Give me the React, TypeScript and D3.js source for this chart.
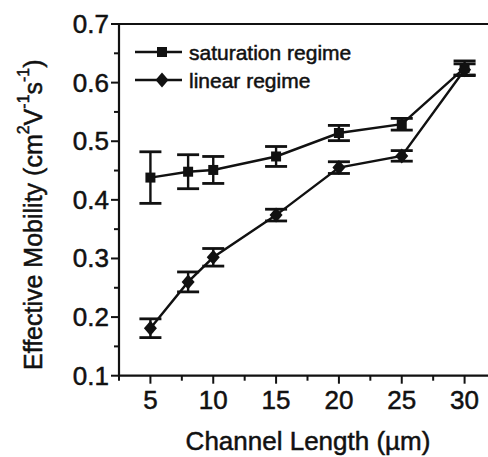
import React from 'react';
import * as d3 from 'd3';

// channel length (µm)
const channelLength = [5, 8, 10, 15, 20, 25, 30];
// effective mobility, saturation regime
const saturationMobility = [0.438, 0.448, 0.451, 0.474, 0.514, 0.529, 0.625];
const saturationError = [0.044, 0.029, 0.023, 0.017, 0.013, 0.01, 0.012];
// effective mobility, linear regime
const linearMobility = [0.181, 0.26, 0.302, 0.374, 0.455, 0.475, 0.622];
const linearError = [0.016, 0.017, 0.015, 0.01, 0.01, 0.009, 0.01];

const xTicks = [5, 10, 15, 20, 25, 30];
const xMinorTicks = [2.5, 7.5, 12.5, 17.5, 22.5, 27.5];
const yTicks = [0.1, 0.2, 0.3, 0.4, 0.5, 0.6, 0.7];
const yMinorTicks = [0.15, 0.25, 0.35, 0.45, 0.55, 0.65];

const legendLabels = ['saturation regime', 'linear regime'];

const W = 488;
const H = 457;
const FONT = "'Liberation Sans', Arial, Helvetica, sans-serif";
const INK = '#111';

const App: React.FC = () => {
  const x = d3.scaleLinear().domain([2.5, 32.5]).range([119, 496]);
  const y = d3.scaleLinear().domain([0.1, 0.7]).range([375.7, 24]);

  const series = [
    { vals: saturationMobility, err: saturationError, shape: 'square' },
    { vals: linearMobility, err: linearError, shape: 'diamond' },
  ];

  const line = d3
    .line<number>()
    .x((_, i) => x(channelLength[i]))
    .y((d) => y(d));

  const square = d3.symbol().type(d3.symbolSquare).size(100)();
  const diamond = 'M0,-7.5L6.5,0L0,7.5L-6.5,0Z';
  const marker = (shape: string) => (shape === 'square' ? square! : diamond);

  const capHalf = 11;
  const textStyle = { fill: INK, stroke: INK, strokeWidth: 0.5 };

  return (
    <svg
      width={W}
      height={H}
      style={{ position: 'absolute', left: 0, top: 0, background: '#fff' }}
      fontFamily={FONT}
    >
      {/* frame: left, bottom, top (right edge falls outside the picture) */}
      <path
        d={`M${W},${y(0.7)}H${x(2.5)}V${y(0.1)}H${W}`}
        fill="none"
        stroke={INK}
        strokeWidth={2.2}
      />

      {/* y ticks */}
      {yTicks.map((t) => (
        <g key={'y' + t}>
          <line x1={x(2.5) - 8} x2={x(2.5)} y1={y(t)} y2={y(t)} stroke={INK} strokeWidth={2} />
          <text
            x={x(2.5) - 10}
            y={y(t)}
            textAnchor="end"
            dominantBaseline="central"
            fontSize={26}
            {...textStyle}
          >
            {d3.format('.1f')(t)}
          </text>
        </g>
      ))}
      {yMinorTicks.map((t) => (
        <line key={'ym' + t} x1={x(2.5) - 5} x2={x(2.5)} y1={y(t)} y2={y(t)} stroke={INK} strokeWidth={2} />
      ))}

      {/* x ticks */}
      {xTicks.map((t) => (
        <g key={'x' + t}>
          <line x1={x(t)} x2={x(t)} y1={y(0.1)} y2={y(0.1) + 8} stroke={INK} strokeWidth={2} />
          <text x={x(t)} y={400} textAnchor="middle" dominantBaseline="central" fontSize={26} {...textStyle}>
            {t}
          </text>
        </g>
      ))}
      {xMinorTicks.map((t) => (
        <line key={'xm' + t} x1={x(t)} x2={x(t)} y1={y(0.1)} y2={y(0.1) + 5} stroke={INK} strokeWidth={2} />
      ))}

      {/* axis titles */}
      <text x={308} y={450} textAnchor="middle" fontSize={26} {...textStyle}>
        Channel Length (µm)
      </text>
      <text
        transform="translate(33,370) rotate(-90)"
        textAnchor="start"
        dominantBaseline="central"
        fontSize={25}
        {...textStyle}
      >
        Effective Mobility (cm
        <tspan fontSize={16} dy={-10}>2</tspan>
        <tspan dy={10}>V</tspan>
        <tspan fontSize={16} dy={-10}>-1</tspan>
        <tspan dy={10}>s</tspan>
        <tspan fontSize={16} dy={-10}>-1</tspan>
        <tspan dy={10}>)</tspan>
      </text>

      {/* series */}
      {series.map((s, si) => (
        <g key={'s' + si}>
          <path d={line(s.vals)!} fill="none" stroke={INK} strokeWidth={2.4} />
          {s.vals.map((v, i) => {
            const cx = x(channelLength[i]);
            const top = y(v + s.err[i]);
            const bot = y(v - s.err[i]);
            return (
              <g key={i}>
                <line x1={cx} x2={cx} y1={top} y2={bot} stroke={INK} strokeWidth={2.4} />
                <line x1={cx - capHalf} x2={cx + capHalf} y1={top} y2={top} stroke={INK} strokeWidth={2.8} />
                <line x1={cx - capHalf} x2={cx + capHalf} y1={bot} y2={bot} stroke={INK} strokeWidth={2.8} />
                <path d={marker(s.shape)} transform={`translate(${cx},${y(v)})`} fill={INK} />
              </g>
            );
          })}
        </g>
      ))}

      {/* legend */}
      {legendLabels.map((lab, i) => {
        const ly = 52 + i * 28;
        return (
          <g key={lab}>
            <line x1={135} x2={182} y1={ly} y2={ly} stroke={INK} strokeWidth={2.4} />
            <path d={marker(series[i].shape)} transform={`translate(162,${ly})`} fill={INK} />
            <text x={189} y={ly} dominantBaseline="central" fontSize={21} {...textStyle}>
              {lab}
            </text>
          </g>
        );
      })}
    </svg>
  );
};

export default App;
